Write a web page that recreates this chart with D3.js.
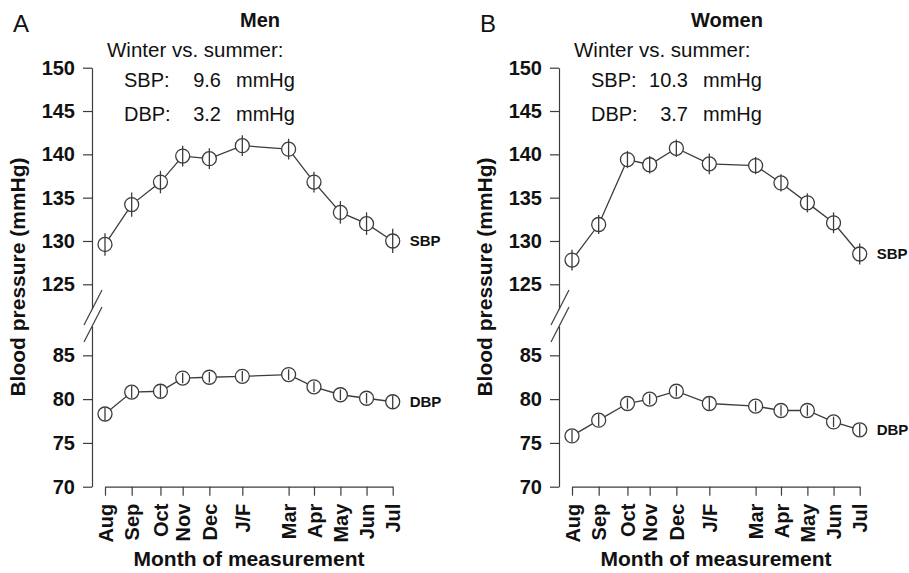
<!DOCTYPE html>
<html>
<head>
<meta charset="utf-8">
<script src="https://cdn.jsdelivr.net/npm/d3@7"></script>
<style>
  body { margin: 0; background: #fff; }
  svg { font-family: "Liberation Sans", Arial, sans-serif; }
</style>
</head>
<body>
<svg id="chart" width="909" height="573"></svg>
<script>
// month labels and their position along the year (months after August)
const months = ['Aug', 'Sep', 'Oct', 'Nov', 'Dec', 'J/F', 'Mar', 'Apr', 'May', 'Jun', 'Jul'];
const monthPos = [0, 1.02, 2.12, 2.97, 3.99, 5.25, 7.02, 7.99, 9.0, 10.0, 11.0];

const upperTicks = [125, 130, 135, 140, 145, 150];
const lowerTicks = [70, 75, 80, 85];

const menSBP = [129.6, 134.2, 136.8, 139.8, 139.5, 141.0, 140.6, 136.8, 133.3, 132.0, 130.0];
const menSBPErr = [1.3, 1.4, 1.3, 1.2, 1.2, 1.2, 1.2, 1.2, 1.3, 1.3, 1.4];
const menDBP = [78.3, 80.8, 80.9, 82.4, 82.5, 82.6, 82.8, 81.4, 80.5, 80.1, 79.7];
const menDBPErr = [0.7, 0.7, 0.7, 0.6, 0.6, 0.6, 0.6, 0.6, 0.6, 0.6, 0.7];

const womenSBP = [127.8, 131.9, 139.4, 138.8, 140.7, 138.9, 138.7, 136.7, 134.4, 132.1, 128.5];
const womenSBPErr = [1.2, 1.1, 1.0, 1.0, 1.0, 1.2, 1.0, 1.0, 1.1, 1.2, 1.2];
const womenDBP = [75.8, 77.6, 79.5, 80.0, 80.9, 79.5, 79.2, 78.7, 78.7, 77.4, 76.5];
const womenDBPErr = [0.7, 0.7, 0.6, 0.6, 0.6, 0.7, 0.6, 0.6, 0.6, 0.6, 0.7];

const panels = [
  {letter: 'A', title: 'Men', sbpDiff: '9.6', dbpDiff: '3.2',
   sbp: menSBP, sbpErr: menSBPErr, dbp: menDBP, dbpErr: menDBPErr, x0: 0},
  {letter: 'B', title: 'Women', sbpDiff: '10.3', dbpDiff: '3.7',
   sbp: womenSBP, sbpErr: womenSBPErr, dbp: womenDBP, dbpErr: womenDBPErr, x0: 467}
];

const svg = d3.select('#chart');
const ink = '#3c3c3c';

// broken y axis: two scales with the same units per mmHg
const yTop = d3.scaleLinear().domain([122.15, 150]).range([309, 67.7]);
const yBot = d3.scaleLinear().domain([70, 88.35]).range([486.7, 326]);

panels.forEach(p => {
  const g = svg.append('g').attr('transform', 'translate(' + p.x0 + ',0)');
  const axisX = 92;

  const x = d3.scaleLinear().domain([0, 11]).range([105, 392.7]);

  // y axes
  [[yTop, upperTicks], [yBot, lowerTicks]].forEach(([sc, ticks]) => {
    const ax = g.append('g')
      .attr('transform', 'translate(' + axisX + ',0)')
      .call(d3.axisLeft(sc).tickValues(ticks).tickSizeOuter(0).tickSizeInner(9).tickPadding(8));
    ax.select('.domain').attr('stroke', ink).attr('stroke-width', 1.2);
    ax.selectAll('.tick line').attr('stroke', ink).attr('stroke-width', 1.2);
    ax.selectAll('.tick text')
      .attr('fill', '#111')
      .style('font-size', '20px')
      .style('font-weight', 'bold')
      .attr('font-family', null);
  });

  // break slashes
  const brk = [yTop(122.15), yBot(88.35)];
  brk.forEach(yb => {
    g.append('line')
      .attr('x1', axisX + 10).attr('y1', yb - 19)
      .attr('x2', axisX - 8).attr('y2', yb + 16)
      .attr('stroke', ink).attr('stroke-width', 1.2);
  });

  // x axis
  const xa = g.append('g')
    .attr('transform', 'translate(0,' + yBot(70) + ')')
    .call(d3.axisBottom(x).tickValues(monthPos).tickFormat((d, i) => months[i])
      .tickSizeOuter(0).tickSizeInner(9));
  xa.select('.domain').attr('stroke', ink).attr('stroke-width', 1.2);
  xa.selectAll('.tick line').attr('stroke', ink).attr('stroke-width', 1.2);
  xa.selectAll('.tick text')
    .attr('fill', '#111')
    .attr('font-family', null)
    .style('font-size', '20px')
    .style('font-weight', 'bold')
    .attr('transform', 'rotate(-90)')
    .attr('text-anchor', 'end')
    .attr('x', -17)
    .attr('y', 0)
    .attr('dy', '0.36em');

  // series
  const series = [
    {vals: p.sbp, err: p.sbpErr, y: yTop, label: 'SBP'},
    {vals: p.dbp, err: p.dbpErr, y: yBot, label: 'DBP'}
  ];
  series.forEach(s => {
    const line = d3.line().x((d, i) => x(monthPos[i])).y(d => s.y(d));
    g.append('path')
      .datum(s.vals)
      .attr('d', line)
      .attr('fill', 'none')
      .attr('stroke', ink)
      .attr('stroke-width', 1.3);
    g.selectAll(null)
      .data(s.vals)
      .enter().append('circle')
      .attr('cx', (d, i) => x(monthPos[i]))
      .attr('cy', d => s.y(d))
      .attr('r', 7)
      .attr('fill', '#fff')
      .attr('stroke', ink)
      .attr('stroke-width', 1.3);
    g.selectAll(null)
      .data(s.vals)
      .enter().append('line')
      .attr('x1', (d, i) => x(monthPos[i]))
      .attr('x2', (d, i) => x(monthPos[i]))
      .attr('y1', (d, i) => s.y(d + s.err[i]))
      .attr('y2', (d, i) => s.y(d - s.err[i]))
      .attr('stroke', ink)
      .attr('stroke-width', 1.3);
    g.append('text')
      .attr('x', x(11) + 17)
      .attr('y', s.y(s.vals[s.vals.length - 1]))
      .attr('dy', '0.36em')
      .style('font-size', '15px')
      .style('font-weight', 'bold')
      .attr('fill', '#111')
      .text(s.label);
  });

  // labels
  g.append('text').attr('x', 13).attr('y', 32)
    .style('font-size', '24px').attr('fill', '#111').text(p.letter);
  g.append('text').attr('x', 260).attr('y', 27)
    .attr('text-anchor', 'middle')
    .style('font-size', '20px').style('font-weight', 'bold').attr('fill', '#111')
    .text(p.title);
  g.append('text').attr('x', axisX + 15).attr('y', 57)
    .style('font-size', '20.5px').attr('fill', '#111').text('Winter vs. summer:');
  [['SBP:', p.sbpDiff, 87], ['DBP:', p.dbpDiff, 120.5]].forEach(([lab, val, yy]) => {
    g.append('text').attr('x', axisX + 32).attr('y', yy)
      .style('font-size', '20px').attr('fill', '#111').text(lab);
    g.append('text').attr('x', axisX + 129).attr('y', yy)
      .attr('text-anchor', 'end')
      .style('font-size', '20px').attr('fill', '#111').text(val);
    g.append('text').attr('x', axisX + 144).attr('y', yy)
      .style('font-size', '20px').attr('fill', '#111').text('mmHg');
  });

  g.append('text')
    .attr('transform', 'translate(25,277) rotate(-90)')
    .attr('text-anchor', 'middle')
    .style('font-size', '21px').style('font-weight', 'bold').attr('fill', '#111')
    .text('Blood pressure (mmHg)');
  g.append('text')
    .attr('x', 249).attr('y', 566)
    .attr('text-anchor', 'middle')
    .style('font-size', '21px').style('font-weight', 'bold').attr('fill', '#111')
    .text('Month of measurement');
});
</script>
</body>
</html>
